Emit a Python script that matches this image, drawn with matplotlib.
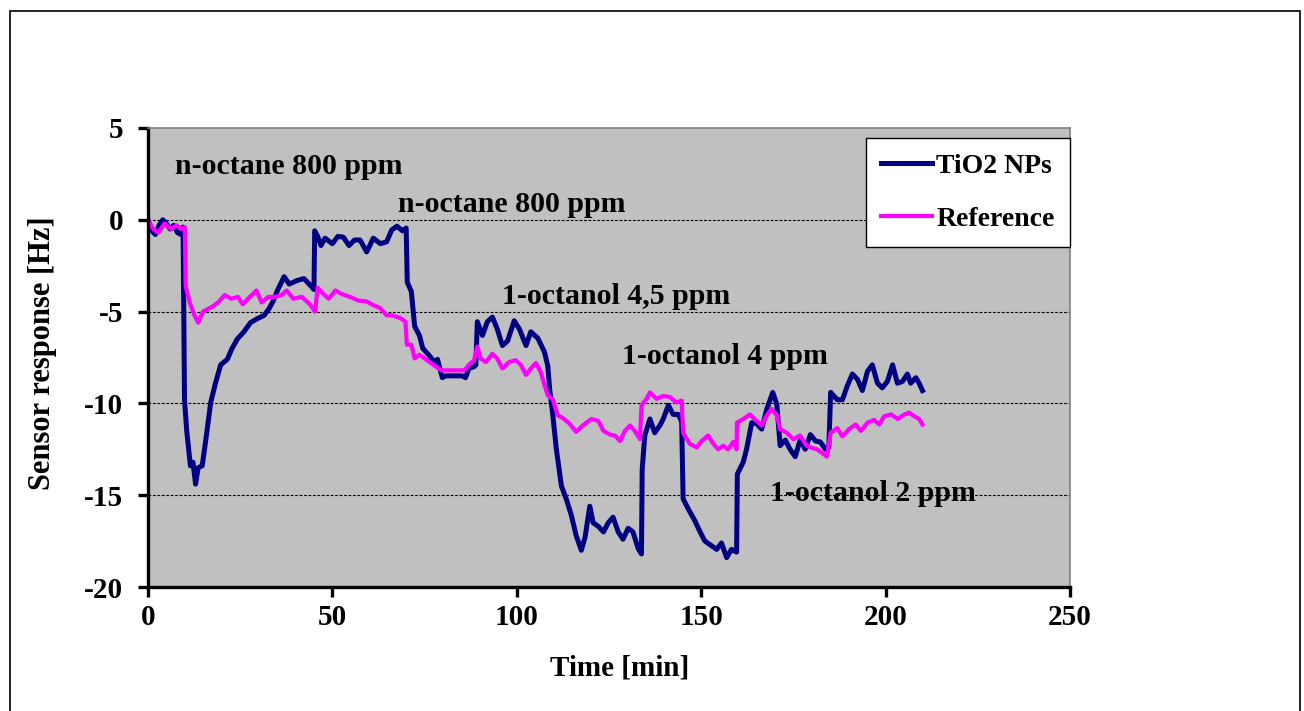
import numpy as np
import matplotlib.pyplot as plt
from matplotlib.patches import Rectangle

# Sensor response of TiO2 NP coated sensor vs. reference sensor
t_tio2 = [0, 1, 2, 3, 4, 5, 6, 7, 8, 9, 9.5,
          9.9, 10.5, 11.5, 12.2, 12.9, 13.6, 14.7, 15.8, 17.0, 18.3, 19.7, 21.5, 22.8, 24.2,
          26, 27.8, 29.5, 31.5, 32.8, 34, 35.1, 36.9, 38.3, 40.5, 42.3, 44.6, 45.0,
          45.2, 46.0, 46.9, 48, 50, 51.5, 53, 54.5, 56, 57.5, 59.3, 61.1, 63, 64.7, 66.1, 67.5, 69, 70,
          70.3, 71.4, 72.3, 73.6, 74.5, 76.3, 77.6, 78.5, 79.8, 80.7, 83, 85.2, 86.1, 87, 88.4, 88.9,
          89.3, 90.7, 92, 93.4, 94.7, 96.1, 97.5, 99.3, 100.7, 102.5, 103.8, 105.7, 107.5, 108.4,
          108.9, 109.8, 110.7, 112.1, 113.4, 114.8, 116.1, 117.5, 118.5, 119.8, 120.7, 122.1, 123.5,
          124.8, 126.1, 127.5, 128.8, 130.2, 131.5, 132.9, 133.8,
          134.0, 134.7, 136.1, 137.4, 138.8, 139.7, 141.1, 142.4, 143.8, 144.7,
          145.1, 146.5, 148.3, 149.7, 151.0, 152.8, 154.2, 155.5, 156.9, 158.2, 159.6,
          159.8, 161.4, 162.3, 163.7, 165.0, 166.4, 167.8, 169.4, 170.5, 171.4, 172.8, 174.1, 175.5,
          176.9, 178.2, 179.6, 181.0, 182.3, 183.7, 184.6,
          185.1, 186.9, 188.3, 189.6, 191.0, 192.4, 193.7, 195.1, 196.4, 197.8, 199.1, 200.5, 201.9,
          203.2, 204.6, 205.9, 206.8, 208.2, 209.1, 210.0]
y_tio2 = [0, -0.6, -0.8, -0.3, 0, -0.2, -0.5, -0.3, -0.7, -0.8, -0.4,
          -9.8, -11.5, -13.4, -13.2, -14.4, -13.5, -13.4, -11.8, -9.95, -8.9, -7.9, -7.6, -7.0, -6.5,
          -6.1, -5.6, -5.4, -5.2, -4.85, -4.4, -3.85, -3.1, -3.5, -3.3, -3.2, -3.7, -3.8,
          -0.6, -0.9, -1.4, -1.0, -1.3, -0.9, -0.95, -1.4, -1.1, -1.1, -1.75, -1.0, -1.3, -1.2, -0.55, -0.35, -0.6, -0.45,
          -3.4, -3.9, -5.8, -6.3, -7.0, -7.4, -7.75, -7.6, -8.6, -8.5, -8.5, -8.5, -8.6, -8.1, -8.0, -7.9,
          -5.55, -6.3, -5.55, -5.3, -5.95, -6.85, -6.6, -5.5, -5.95, -6.85, -6.1, -6.45, -7.2, -7.95,
          -9.2, -10.7, -12.45, -14.5, -15.2, -16.1, -17.2, -18.0, -17.3, -15.6, -16.5, -16.7, -17.0,
          -16.5, -16.2, -17.0, -17.4, -16.8, -17.0, -17.9, -18.2,
          -13.6, -11.75, -10.85, -11.6, -11.2, -10.85, -10.1, -10.6, -10.6, -11.0,
          -15.2, -15.75, -16.4, -17.0, -17.5, -17.75, -17.95, -17.6, -18.4, -17.95, -18.1,
          -13.85, -13.2, -12.5, -11.05, -11.1, -11.4, -10.3, -9.4, -10.05, -12.3, -12.0, -12.5, -12.9,
          -11.95, -12.5, -11.7, -12.05, -12.1, -12.5, -12.4,
          -9.4, -9.8, -9.8, -9.05, -8.4, -8.7, -9.3, -8.25, -7.9, -8.9, -9.15, -8.8, -7.9,
          -8.9, -8.8, -8.4, -8.9, -8.6, -8.9, -9.3]

t_ref = [0, 1.4, 2.8, 4.5, 6.3, 7.7, 9.1, 10.0,
         10.2, 11.3, 12.6, 13.6, 14.9, 16.3, 17.7, 19.0, 20.8, 22.6, 24.4, 25.7, 27.1, 29.4, 30.8,
         32.6, 34.4, 36.2, 37.6, 39.4, 41.7, 43.9, 45.3,
         46.0, 47.6, 49.0, 50.8, 52.6, 54.8, 57.1, 59.3, 61.1, 62.9, 64.7, 66.1, 68.4, 69.8,
         70.2, 71.4, 72.3, 73.6, 75.0, 76.8, 78.1, 79.5, 82, 85.8, 87.0, 88.4,
         89.3, 90.2, 91.6, 93.4, 94.7, 96.1, 97.9, 99.7, 101.1, 102.5, 103.8, 105.2, 106.5, 107.5,
         108.4, 109.8, 111.1, 112.5, 114.3, 116.1, 117.9, 118.9, 120.2, 122.1, 123.5, 125.3, 126.6,
         128.0, 129.3, 130.7, 132.0, 133.4,
         133.8, 135.2, 136.1, 137.9, 139.7, 141.5, 143.3, 144.7,
         145.1, 146.9, 148.8, 150.1, 151.9, 153.3, 154.6, 156.0, 157.3, 158.7, 159.6,
         159.7, 161.4, 163.2, 165.0, 166.4, 167.8, 169.1, 170.5, 171.4, 173.2, 175.0, 176.8, 178.6,
         179.6, 181.4, 182.8, 184.1,
         185.1, 186.9, 188.3, 190.1, 191.9, 193.3, 195.1, 196.9, 198.3, 199.6, 201.5, 203.3, 205.1,
         206.4, 207.8, 209.1, 210.0]
y_ref = [0, -0.5, -0.7, -0.2, -0.5, -0.3, -0.5, -0.4,
         -3.6, -4.5, -5.2, -5.6, -5.0, -4.85, -4.7, -4.5, -4.1, -4.3, -4.2, -4.6, -4.3, -3.85, -4.5,
         -4.2, -4.2, -4.1, -3.85, -4.3, -4.2, -4.6, -5.0,
         -3.7, -4.05, -4.3, -3.85, -4.05, -4.2, -4.4, -4.45, -4.65, -4.8, -5.2, -5.2, -5.35, -5.55,
         -6.8, -6.8, -7.55, -7.35, -7.55, -7.8, -8.0, -8.2, -8.2, -8.2, -7.9, -7.65,
         -6.9, -7.55, -7.75, -7.3, -7.55, -8.1, -7.75, -7.65, -7.9, -8.45, -8.1, -7.8, -8.3, -9.0,
         -9.55, -9.8, -10.65, -10.8, -11.1, -11.55, -11.2, -11.05, -10.85, -10.95, -11.5, -11.7, -11.75,
         -12.05, -11.5, -11.2, -11.5, -11.95,
         -10.1, -9.75, -9.4, -9.75, -9.6, -9.65, -9.95, -9.85,
         -11.6, -12.2, -12.4, -12.05, -11.75, -12.2, -12.5, -12.3, -12.5, -12.1, -12.5,
         -11.05, -10.85, -10.6, -10.95, -11.2, -10.65, -10.3, -10.65, -11.4, -11.6, -11.95, -11.75, -12.3,
         -12.4, -12.5, -12.7, -12.9,
         -11.6, -11.35, -11.8, -11.4, -11.15, -11.5, -11.05, -10.9, -11.15, -10.7, -10.6, -10.85, -10.6,
         -10.5, -10.7, -10.85, -11.15]

# gas exposure labels
labels = ["n-octane 800 ppm", "n-octane 800 ppm", "1-octanol 4,5 ppm",
          "1-octanol 4 ppm", "1-octanol 2 ppm"]
label_t = [7.3, 67.8, 96, 128.5, 168.7]
label_y = [2.93, 0.86, -4.2, -7.47, -14.93]

plt.rcParams['font.family'] = ['Liberation Serif', 'DejaVu Serif']
plt.rcParams['font.weight'] = 'bold'
plt.rcParams['axes.unicode_minus'] = False

fig = plt.figure(figsize=(13.04, 7.11), dpi=100)
fig.patches.append(Rectangle((10/1304, -0.05), 1290/1304, 1 - 11/711 + 0.05,
                             transform=fig.transFigure, fill=False,
                             edgecolor='black', linewidth=1.2))
ax = fig.add_axes([148/1304, 1 - 587/711, 922/1304, 459/711])
ax.set_facecolor('#c0c0c0')

ax.plot(t_tio2, y_tio2, color='#000080', lw=3.6, label='TiO2 NPs', solid_joinstyle='round')
ax.plot(t_ref, y_ref, color='#ff00ff', lw=3.0, label='Reference', solid_joinstyle='round')

for txt, tx, ty in zip(labels, label_t, label_y):
    ax.text(tx, ty, txt, fontsize=21.5, fontweight='bold', va='center', ha='left')

ax.set_xlim(0, 250)
ax.set_ylim(-20, 5)
ax.set_xticks(np.arange(0, 251, 50))
ax.set_yticks(np.arange(-20, 6, 5))
for g in [0, -5, -10, -15]:
    ax.axhline(g, color='black', lw=0.8, ls=(0, (2.5, 1.5)), zorder=0.5)

for side in ['left', 'bottom']:
    ax.spines[side].set_linewidth(2.4)
for side in ['top', 'right']:
    ax.spines[side].set_color('#808080')
    ax.spines[side].set_linewidth(1.2)

ax.tick_params(axis='both', direction='out', length=7, width=2.4, labelsize=21)
ax.tick_params(axis='y', pad=11)
ax.tick_params(axis='x', pad=5)

ax.set_xlabel('Time [min]', fontsize=21, fontweight='bold')
ax.set_ylabel('Sensor response [Hz]', fontsize=22, fontweight='bold')
ax.xaxis.set_label_coords(0.511, -0.146)
ax.yaxis.set_label_coords(-0.099, 0.51)

leg = ax.legend(loc='upper right', bbox_to_anchor=(1.0, 0.978), borderaxespad=0,
                fancybox=False, edgecolor='black', framealpha=1, fontsize=20,
                handlelength=1.85, labelspacing=1.0, handletextpad=0.15,
                borderpad=0.55)
leg.get_frame().set_linewidth(1.0)

fig.savefig('out.png', dpi=100)
